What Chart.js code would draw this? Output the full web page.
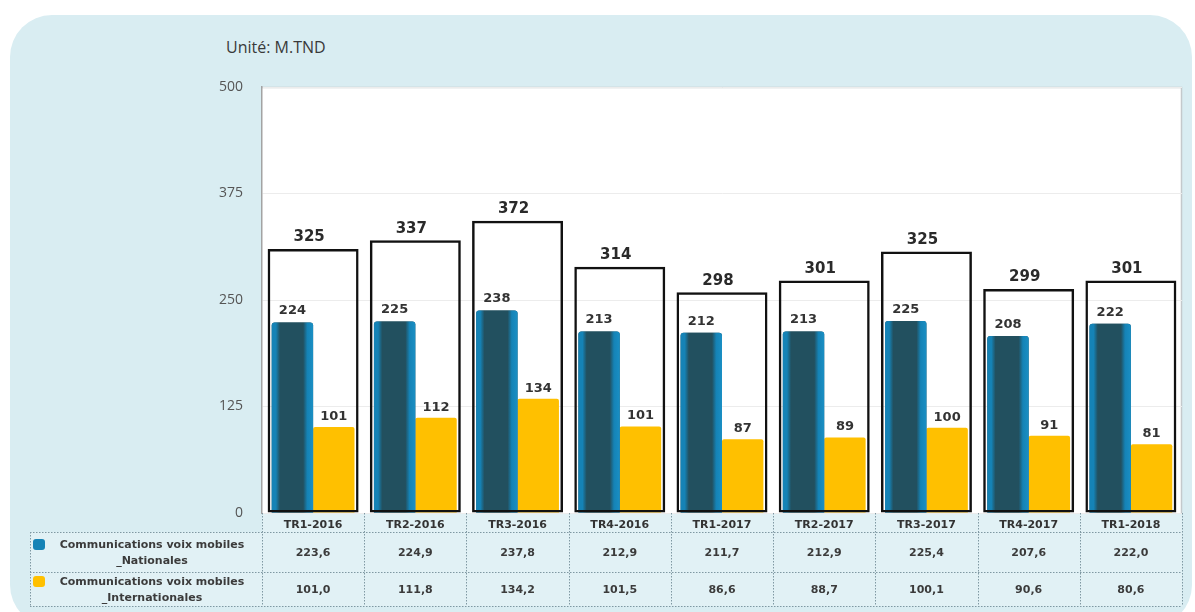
<!DOCTYPE html>
<html>
<head>
<meta charset="utf-8">
<script src="https://cdn.jsdelivr.net/npm/chart.js@4/dist/chart.umd.min.js"></script>
<style>
  html, body { margin: 0; padding: 0; background: #ffffff; width: 1195px; height: 612px; overflow: hidden; }
  .card { position: absolute; left: 10px; top: 15px; width: 1182px; height: 612px; border-radius: 42px; background: #d9edf2; }
  .unit { position: absolute; left: 226px; top: 36px; font-family: "Open Sans", sans-serif; font-size: 16px; color: #3a3a3a; }
  canvas { position: absolute; left: 0; top: 0; }
</style>
</head>
<body>
<div class="card"></div>
<div class="unit">Unité: M.TND</div>
<canvas id="c" width="1195" height="612"></canvas>
<script>
const categories = ['TR1-2016', 'TR2-2016', 'TR3-2016', 'TR4-2016', 'TR1-2017', 'TR2-2017', 'TR3-2017', 'TR4-2017', 'TR1-2018'];
const nationales = [223.6, 224.9, 237.8, 212.9, 211.7, 212.9, 225.4, 207.6, 222.0];
const internationales = [101.0, 111.8, 134.2, 101.5, 86.6, 88.7, 100.1, 90.6, 80.6];
const nationalesLabels = ['224', '225', '238', '213', '212', '213', '225', '208', '222'];
const internationalesLabels = ['101', '112', '134', '101', '87', '89', '100', '91', '81'];
const totalLabels = ['325', '337', '372', '314', '298', '301', '325', '299', '301'];
const totalBoxHeights = [310, 320, 343, 289, 259, 273, 307, 263, 273];
const yTicks = [0, 125, 250, 375, 500];
const seriesNames = [['Communications voix mobiles', '_Nationales'], ['Communications voix mobiles', '_Internationales']];

const TEAL_DARK = '#22505f';
const TEAL_LIGHT = '#1583b6';
const YELLOW = '#ffc000';
const FONT = '"DejaVu Sans", Verdana, sans-serif';

function fmt(v) { return v.toFixed(1).replace('.', ','); }

const plotBg = {
  id: 'plotBg',
  beforeDraw(chart) {
    const { ctx, chartArea: a } = chart;
    ctx.save();
    ctx.fillStyle = 'rgba(255,255,255,0.22)';
    ctx.fillRect(a.left, a.bottom, a.right - a.left, 19);
    ctx.fillRect(30, a.bottom + 19, a.right - 30, 74);
    ctx.fillStyle = '#ffffff';
    ctx.fillRect(a.left, a.top, a.right - a.left, a.bottom - a.top);
    ctx.strokeStyle = '#c4c9cc';
    ctx.lineWidth = 1.5;
    ctx.beginPath();
    ctx.moveTo(a.left, a.top + 0.5);
    ctx.lineTo(a.right - 0.5, a.top + 0.5);
    ctx.lineTo(a.right - 0.5, a.bottom);
    ctx.stroke();
    ctx.restore();
  }
};

const tealShade = {
  id: 'tealShade',
  afterDatasetDraw(chart, args) {
    if (args.index !== 0) return;
    const { ctx } = chart;
    ctx.save();
    args.meta.data.forEach(el => {
      const p = el.getProps(['x', 'y', 'base', 'width'], true);
      const l = p.x - p.width / 2, r = p.x + p.width / 2;
      const g = ctx.createLinearGradient(l, 0, r, 0);
      g.addColorStop(0, TEAL_LIGHT);
      g.addColorStop(0.1, TEAL_LIGHT);
      g.addColorStop(0.2, TEAL_DARK);
      g.addColorStop(0.76, TEAL_DARK);
      g.addColorStop(0.86, TEAL_LIGHT);
      g.addColorStop(1, '#1a8fc4');
      ctx.fillStyle = g;
      ctx.beginPath();
      if (ctx.roundRect) ctx.roundRect(l, p.y, r - l, p.base - p.y, [3, 3, 0, 0]);
      else ctx.rect(l, p.y, r - l, p.base - p.y);
      ctx.fill();
    });
    ctx.restore();
  }
};

const valueLabels = {
  id: 'valueLabels',
  afterDatasetsDraw(chart) {
    const { ctx } = chart;
    ctx.save();
    ctx.textAlign = 'center';
    ctx.textBaseline = 'bottom';
    const m0 = chart.getDatasetMeta(0), m1 = chart.getDatasetMeta(1), m2 = chart.getDatasetMeta(2);
    ctx.fillStyle = '#2a2a2a';
    ctx.font = 'bold 15px ' + FONT;
    m2.data.forEach((el, i) => ctx.fillText(totalLabels[i], el.x - 4, el.y - 4));
    ctx.font = 'bold 13px ' + FONT;
    ctx.fillStyle = '#333333';
    m0.data.forEach((el, i) => ctx.fillText(nationalesLabels[i], el.x, el.y - 5));
    m1.data.forEach((el, i) => ctx.fillText(internationalesLabels[i], el.x, el.y - 4));
    ctx.restore();
  }
};

const dataTable = {
  id: 'dataTable',
  afterDraw(chart) {
    const { ctx, chartArea: a } = chart;
    const xs = chart.scales.x;
    const n = categories.length;
    const cw = (a.right - a.left) / n;
    const y0 = a.bottom, y1 = a.bottom + 19, y2 = a.bottom + 59, y3 = a.bottom + 93;
    const tl = 30;
    ctx.save();
    ctx.strokeStyle = '#7f98a2';
    ctx.lineWidth = 1;
    ctx.setLineDash([1.5, 1.5]);
    ctx.beginPath();
    [y1, y2, y3].forEach(y => { ctx.moveTo(tl, y + 0.5); ctx.lineTo(a.right, y + 0.5); });
    ctx.moveTo(tl + 0.5, y1); ctx.lineTo(tl + 0.5, y3);
    for (let i = 0; i <= n; i++) {
      const x = Math.round(a.left + i * cw) + 0.5;
      ctx.moveTo(x, y0); ctx.lineTo(x, y3);
    }
    ctx.stroke();
    ctx.setLineDash([]);
    ctx.fillStyle = '#3b3b3b';
    ctx.font = 'bold 11px ' + FONT;
    ctx.textAlign = 'center';
    ctx.textBaseline = 'middle';
    for (let i = 0; i < n; i++) {
      const x = xs.getPixelForValue(i);
      ctx.fillText(fmt(nationales[i]), x, (y1 + y2) / 2 + 1);
      ctx.fillText(fmt(internationales[i]), x, (y2 + y3) / 2 + 1);
    }
    const cx = (tl + a.left) / 2 + 6;
    const rows = [[y1, y2, TEAL_LIGHT, 0], [y2, y3, YELLOW, 1]];
    rows.forEach(([ya, yb, col, k]) => {
      const mid = (ya + yb) / 2;
      ctx.fillStyle = col;
      ctx.beginPath();
      if (ctx.roundRect) ctx.roundRect(33, mid - 13, 12, 11, 3); else ctx.rect(33, mid - 13, 12, 11);
      ctx.fill();
      ctx.fillStyle = '#3b3b3b';
      ctx.fillText(seriesNames[k][0], cx, mid - 7);
      ctx.fillText(seriesNames[k][1], cx, mid + 9);
    });
    ctx.restore();
  }
};

new Chart(document.getElementById('c'), {
  type: 'bar',
  data: {
    labels: categories,
    datasets: [
      {
        label: seriesNames[0].join(' '),
        data: nationales,
        backgroundColor: TEAL_DARK,
        borderRadius: { topLeft: 3, topRight: 3 },
        categoryPercentage: 0.81,
        barPercentage: 1,
        order: 1
      },
      {
        label: seriesNames[1].join(' '),
        data: internationales,
        backgroundColor: YELLOW,
        borderRadius: { topLeft: 2, topRight: 2 },
        categoryPercentage: 0.81,
        barPercentage: 1,
        order: 1
      },
      {
        label: 'Total',
        data: totalBoxHeights,
        grouped: false,
        backgroundColor: 'rgba(255,255,255,0)',
        borderColor: '#111111',
        borderWidth: 2.5,
        borderSkipped: false,
        categoryPercentage: 1,
        barPercentage: 0.89,
        order: 0
      }
    ]
  },
  options: {
    responsive: false,
    animation: false,
    devicePixelRatio: 1,
    layout: { padding: { left: 0, top: 87, right: 13, bottom: 0 } },
    plugins: { legend: { display: false }, tooltip: { enabled: false }, title: { display: false } },
    scales: {
      x: {
        type: 'category',
        offset: true,
        grid: { display: false, drawTicks: false },
        border: { display: false },
        ticks: { font: { family: FONT, size: 11, weight: 'bold' }, color: '#333333', padding: 6, maxRotation: 0, autoSkip: false },
        afterFit(s) { s.height = 99; }
      },
      y: {
        min: 0, max: 500,
        afterBuildTicks(s) { s.ticks = yTicks.map(v => ({ value: v })); },
        ticks: { font: { family: '"Open Sans", sans-serif', size: 14 }, color: '#555555', padding: 19 },
        grid: { color: '#ececec', drawTicks: false },
        border: { color: '#a3a3a3', width: 1.5 },
        afterFit(s) { s.width = 262; }
      }
    }
  },
  plugins: [plotBg, tealShade, valueLabels, dataTable]
});
</script>
</body>
</html>
